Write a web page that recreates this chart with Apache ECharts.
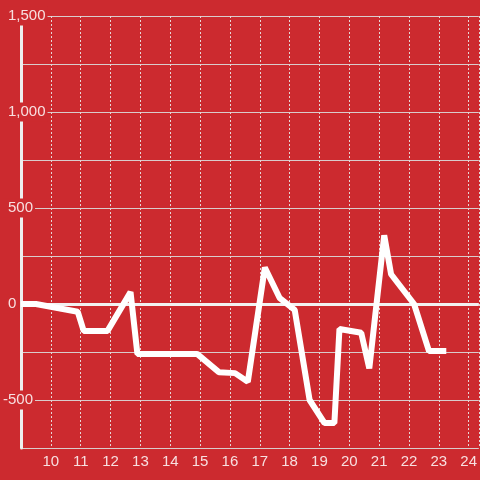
<!DOCTYPE html>
<html>
<head>
<meta charset="utf-8">
<script src="https://cdn.jsdelivr.net/npm/echarts@6/dist/echarts.min.js"></script>
<style>
  html, body { margin: 0; padding: 0; background: #cc2a2f; }
  #chart { width: 480px; height: 480px; }
</style>
</head>
<body>
<div id="chart"></div>
<script>
// hours on x, values on y
var hours = [9.0, 9.5, 10.9, 11.1, 11.9, 12.67, 12.9, 14.9, 15.63, 16.17, 16.6, 17.17, 17.67, 18.17, 18.67, 19.17, 19.5, 19.67, 20.4, 20.67, 21.17, 21.4, 22.17, 22.67, 23.25];
var values = [0, 0, -40, -140, -140, 62, -260, -260, -355, -360, -405, 190, 30, -30, -500, -620, -620, -130, -150, -335, 358, 155, 0, -245, -245];
var yLabelStep = 500;

var points = [];
for (var i = 0; i < hours.length; i++) {
  points.push([hours[i], values[i]]);
}

var myChart = echarts.init(document.getElementById("chart"));
var option = {
  backgroundColor: "#cc2a2f",
  animation: false,
  grid: { left: 20, right: 0, top: 16, bottom: 32 },
  xAxis: {
    type: "value",
    min: 9,
    max: 24.34,
    interval: 1,
    axisLine: { show: false },
    axisTick: { show: false },
    axisLabel: {
      showMinLabel: false,
      showMaxLabel: false,
      color: "rgba(255,255,255,0.85)",
      fontSize: 15,
      margin: 6,
      formatter: function (v) {
        return (v >= 10 && v <= 24 && v === Math.round(v)) ? String(v) : "";
      }
    },
    splitLine: {
      show: true,
      lineStyle: { color: "#e6d6d6", width: 1, type: [2, 2] }
    }
  },
  yAxis: {
    type: "value",
    min: -750,
    max: 1500,
    interval: 250,
    axisLine: { show: true, lineStyle: { color: "#eeeeee", width: 3 } },
    axisTick: { show: false },
    axisLabel: {
      align: "left",
      margin: 18,
      color: "rgba(255,255,255,0.85)",
      fontSize: 15,
      backgroundColor: "#cc2a2f",
      padding: [2, 2, 2, 0],
      formatter: function (v) {
        if (v % yLabelStep !== 0) return "";
        var s = v.toLocaleString("en-US");
        return v < 0 ? s : "{s|}" + s;
      },
      rich: { s: { width: 5 } }
    },
    splitLine: { show: true, lineStyle: { color: "#d9cccc", width: 1 } }
  },
  series: [
    {
      type: "line",
      data: points,
      symbol: "none",
      lineStyle: { color: "#ffffff", width: 6 },
      markLine: {
        silent: true,
        symbol: "none",
        label: { show: false },
        lineStyle: { color: "#f2f2f2", width: 3, type: "solid" },
        data: [{ yAxis: 0 }],
        z: 1
      },
      z: 3
    }
  ]
};
myChart.setOption(option);
</script>
</body>
</html>
